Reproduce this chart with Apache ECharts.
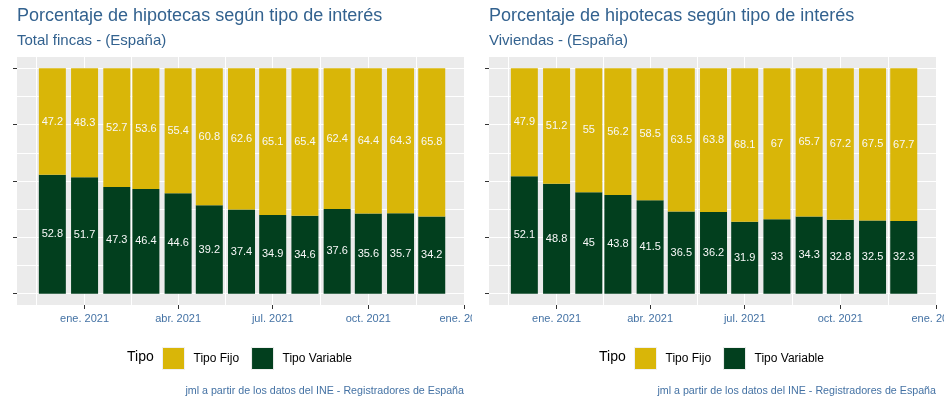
<!DOCTYPE html>
<html>
<head>
<meta charset="utf-8">
<script src="https://cdn.jsdelivr.net/npm/echarts@6/dist/echarts.min.js"></script>
<style>
html,body{margin:0;padding:0;background:#fff;}
#c1,#c2{position:absolute;top:0;width:472px;height:404px;overflow:hidden;}
#c1{left:0;} #c2{left:472px;}
</style>
</head>
<body>
<div id="c1"></div>
<div id="c2"></div>
<script>
// ---- data ----
const meses = ['2020-12-01','2021-01-01','2021-02-01','2021-03-01','2021-04-01','2021-05-01','2021-06-01',
               '2021-07-01','2021-08-01','2021-09-01','2021-10-01','2021-11-01','2021-12-01'];
const totalFijo     = [47.2, 48.3, 52.7, 53.6, 55.4, 60.8, 62.6, 65.1, 65.4, 62.4, 64.4, 64.3, 65.8];
const totalVariable = [52.8, 51.7, 47.3, 46.4, 44.6, 39.2, 37.4, 34.9, 34.6, 37.6, 35.6, 35.7, 34.2];
const vivFijo       = [47.9, 51.2, 55, 56.2, 58.5, 63.5, 63.8, 68.1, 67, 65.7, 67.2, 67.5, 67.7];
const vivVariable   = [52.1, 48.8, 45, 43.8, 41.5, 36.5, 36.2, 31.9, 33, 34.3, 32.8, 32.5, 32.3];
const xTicks = ['2021-01-01','2021-04-01','2021-07-01','2021-10-01','2022-01-01'];
const xMinor = ['2020-11-16','2021-02-15','2021-05-16','2021-08-16','2021-11-16'];
const yTicks = [0, 25, 50, 75, 100];
const yMinor = [12.5, 37.5, 62.5, 87.5];
const mesNombre = ['ene.','feb.','mar.','abr.','may.','jun.','jul.','ago.','sept.','oct.','nov.','dic.'];

function toTs(s){ const p = s.split('-'); return Date.UTC(+p[0], +p[1]-1, +p[2]); }

const FONT = "'Liberation Sans', Arial, sans-serif";
const C_FIJO = '#D9B608';
const C_VAR = '#023F1E';
const C_TITLE = '#33628f';
const C_AXIS = '#4472a4';
const X_MIN = toTs('2020-10-28'), X_MAX = toTs('2022-01-02');
const GRID_L = 17, GRID_R = 7, CHART_W = 472, BAR_W = 27;
// ECharts widens a time axis that carries bars by the bar width; pre-shrink so the final extent equals X_MIN..X_MAX
const PLOT_W = CHART_W - GRID_L - GRID_R;
const PAD = (X_MAX - X_MIN) * (BAR_W / 2) / PLOT_W;

function build(el, subtitle, fijo, variable){
  const chart = echarts.init(document.getElementById(el), null, {renderer:'canvas'});
  const grid = [];
  xTicks.forEach(d => grid.push({xAxis: toTs(d)}));
  xMinor.forEach(d => grid.push({xAxis: toTs(d)}));
  yTicks.forEach(v => grid.push({yAxis: v}));
  yMinor.forEach(v => grid.push({yAxis: v}));
  chart.setOption({
    animation:false,
    textStyle:{fontFamily:FONT},
    title:[
      {text:'Porcentaje de hipotecas según tipo de interés', left:17, top:7, padding:0,
       textStyle:{fontSize:18, fontWeight:'normal', color:C_TITLE, fontFamily:FONT}},
      {text:subtitle, left:17, top:33, padding:0,
       textStyle:{fontSize:15, fontWeight:'normal', color:C_TITLE, fontFamily:FONT}},
      {text:'Tipo', left:127, top:350, padding:0,
       textStyle:{fontSize:14, fontWeight:'normal', color:'#000', fontFamily:FONT}},
      {text:'jml a partir de los datos del INE - Registradores de España', right:8, top:386, padding:0,
       textStyle:{fontSize:10.7, fontWeight:'normal', color:C_AXIS, fontFamily:FONT}}
    ],
    legend:{
      data:['Tipo Fijo','Tipo Variable'],
      left:162, top:347, padding:0,
      itemWidth:22, itemHeight:22, itemGap:12, icon:'rect',
      itemStyle:{borderColor:'#f0f0f0', borderWidth:1},
      textStyle:{fontSize:12, color:'#000', fontFamily:FONT, padding:[0,0,0,4]}
    },
    grid:{left:GRID_L, right:GRID_R, top:57, bottom:99, show:true, backgroundColor:'#EBEBEB', borderWidth:0,
          containLabel:false, outerBoundsMode:'none'},
    xAxis:[
      {type:'time', min:X_MIN + PAD, max:X_MAX - PAD,
       axisLine:{show:false}, axisTick:{show:false}, axisLabel:{show:false}, splitLine:{show:false}},
      {type:'value', min:X_MIN, max:X_MAX, position:'bottom',
       axisLine:{show:false},
       axisTick:{show:true, customValues:xTicks.map(toTs), length:4, lineStyle:{color:'#333', width:1}},
       axisLabel:{show:true, customValues:xTicks.map(toTs), margin:8, fontSize:11, color:C_AXIS, fontFamily:FONT,
         showMinLabel:true, showMaxLabel:true, hideOverlap:false,
         formatter:function(v){ const d = new Date(v); return mesNombre[d.getUTCMonth()] + ' ' + d.getUTCFullYear(); }},
       splitLine:{show:false}}
    ],
    yAxis:{
      type:'value', min:-5, max:105,
      axisLine:{show:false},
      axisLabel:{show:false},
      axisTick:{show:true, customValues:yTicks, length:4, lineStyle:{color:'#333', width:1}},
      splitLine:{show:false}
    },
    series:[
      {type:'line', data:[], z:1, silent:true, xAxisIndex:1,
       markLine:{z:1, silent:true, symbol:'none', animation:false, label:{show:false},
         lineStyle:{color:'#ffffff', width:1, type:'solid'}, data:grid}},
      {name:'Tipo Variable', type:'bar', stack:'a', barWidth:BAR_W, z:2, xAxisIndex:0,
       itemStyle:{color:C_VAR},
       label:{show:true, position:'inside', color:'#f8f8f8', fontSize:11, fontFamily:FONT,
         formatter:p => String(p.value[1])},
       data: meses.map((m,i) => [toTs(m), variable[i]])},
      {name:'Tipo Fijo', type:'bar', stack:'a', barWidth:BAR_W, z:2, xAxisIndex:0,
       itemStyle:{color:C_FIJO},
       label:{show:true, position:'inside', color:'#f8f8f8', fontSize:11, fontFamily:FONT,
         formatter:p => String(p.value[1])},
       data: meses.map((m,i) => [toTs(m), fijo[i]])}
    ]
  });
}
build('c1', 'Total fincas - (España)', totalFijo, totalVariable);
build('c2', 'Viviendas - (España)', vivFijo, vivVariable);
</script>
</body>
</html>
